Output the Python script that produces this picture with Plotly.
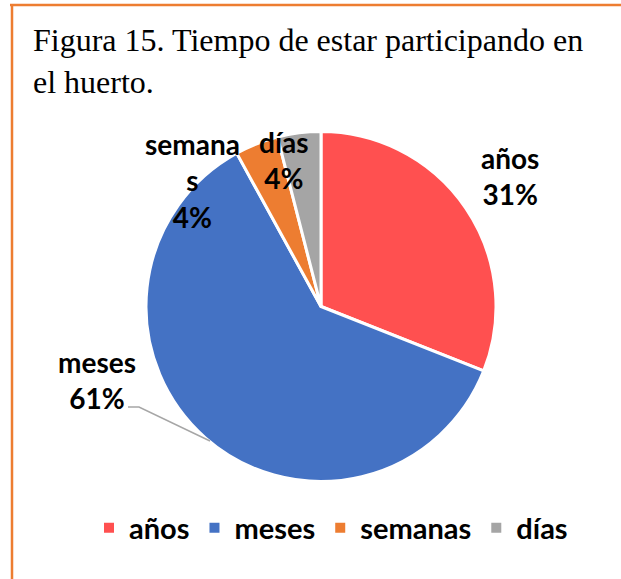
import plotly.graph_objects as go

categorias = ["años", "meses", "semanas", "días"]
porcentajes = [31, 61, 4, 4]
colores = ["#FF5050", "#4472C4", "#ED7D31", "#A5A5A5"]
etiquetas = ["años", "meses", "semana<br>s", "días"]

W, H = 621, 579

def px(x, y):
    return x / W, 1 - y / H

# centres of the data labels (pixels), as Excel placed them
pos_etiquetas = [(510, 176), (97, 380), (192, 180), (284, 160)]

fig = go.Figure()
fig.add_trace(go.Pie(
    labels=categorias,
    values=porcentajes,
    sort=False,
    direction="clockwise",
    rotation=0,
    marker=dict(colors=colores, line=dict(color="white", width=3)),
    textinfo="none",
    hoverinfo="label+percent",
    domain=dict(x=[146 / W, 496 / W], y=[1 - 482 / H, 1 - 131 / H]),
))

anotaciones = []
for et, p, (x, y) in zip(etiquetas, porcentajes, pos_etiquetas):
    xx, yy = px(x, y)
    anotaciones.append(dict(
        text=f"{et}<br>{p}%", x=xx, y=yy, xref="paper", yref="paper",
        showarrow=False, xanchor="center", yanchor="middle",
        font=dict(family="Lato", size=28, color="black", weight="bold"),
    ))

tx, ty = px(31, 20)
anotaciones.append(dict(
    text="Figura 15. Tiempo de estar participando en<br>el huerto.",
    x=tx, y=ty, xref="paper", yref="paper", showarrow=False,
    xanchor="left", yanchor="top", align="left",
    font=dict(family="Liberation Serif", size=32, color="black"),
))

x0, y0 = px(10, 5)
x1, _ = px(621, 5)
lx, ly0 = px(12, 4)
_, ly1 = px(12, 579)
a, b = px(128, 407)
c, d = px(139, 407)
e, f = px(210, 441)

fig.update_layout(
    width=W, height=H,
    margin=dict(l=0, r=0, t=0, b=0),
    paper_bgcolor="white",
    plot_bgcolor="white",
    annotations=anotaciones,
    shapes=[
        dict(type="line", xref="paper", yref="paper", x0=x0, y0=y0, x1=x1, y1=y0,
             line=dict(color="#ED7D31", width=2.5)),
        dict(type="line", xref="paper", yref="paper", x0=lx, y0=ly0, x1=lx, y1=ly1,
             line=dict(color="#ED7D31", width=2.5)),
        dict(type="path", xref="paper", yref="paper",
             path=f"M {a} {b} L {c} {d} L {e} {f}",
             line=dict(color="#A6A6A6", width=1.5)),
    ],
    showlegend=True,
    legend=dict(
        orientation="h", x=0.533, y=1 - 528 / H, xanchor="center", yanchor="middle",
        font=dict(family="Lato", size=29, color="black", weight="bold"),
        itemsizing="constant",
    ),
)

fig.write_html("out.html", config={"displayModeBar": False},
               post_script="document.body.style.margin='0';")
